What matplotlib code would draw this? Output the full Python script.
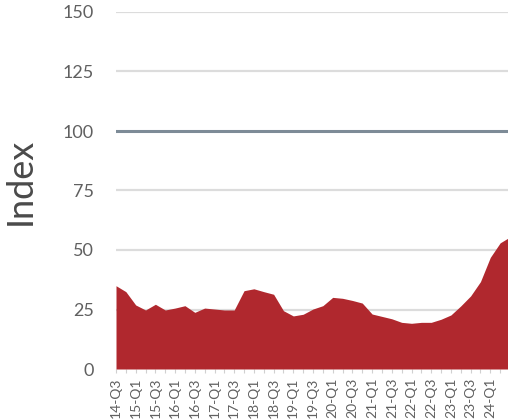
import matplotlib
matplotlib.use("Agg")
import matplotlib.pyplot as plt
import numpy as np

quarters = ["14-Q3", "14-Q4", "15-Q1", "15-Q2", "15-Q3", "15-Q4", "16-Q1", "16-Q2",
            "16-Q3", "16-Q4", "17-Q1", "17-Q2", "17-Q3", "17-Q4", "18-Q1", "18-Q2",
            "18-Q3", "18-Q4", "19-Q1", "19-Q2", "19-Q3", "19-Q4", "20-Q1", "20-Q2",
            "20-Q3", "20-Q4", "21-Q1", "21-Q2", "21-Q3", "21-Q4", "22-Q1", "22-Q2",
            "22-Q3", "22-Q4", "23-Q1", "23-Q2", "23-Q3", "23-Q4", "24-Q1", "24-Q2",
            "24-Q3"]
index_values = [35.0, 32.5, 26.9, 24.8, 27.2, 24.8, 25.6, 26.6, 23.8, 25.6,
                25.2, 24.8, 24.8, 32.9, 33.7, 32.5, 31.4, 24.5, 22.3, 23.0,
                25.2, 26.6, 30.1, 29.7, 28.8, 27.7, 23.1, 22.1, 21.1, 19.6,
                19.2, 19.6, 19.6, 20.9, 22.7, 26.5, 30.7, 36.7, 46.9, 53.0,
                55.5]
y_ticks = [0, 25, 50, 75, 100, 125, 150]

W, H = 508, 419
fig = plt.figure(figsize=(W / 100, H / 100), dpi=100)
px = 9.85
xmax = 41
left = 116 / W
bottom = (H - 369) / H
top = 12 / H
ax = fig.add_axes([left, bottom, xmax * px / W, 1 - bottom - top])

x = np.arange(len(index_values))
ax.fill_between(x, 0, index_values, color="#b0282e", linewidth=0, zorder=3)

ax.set_xlim(0, xmax)
ax.set_ylim(0, 150)
ax.set_yticks(y_ticks)
for v in y_ticks:
    if v == 100:
        ax.axhline(v, color="#7d8b97", linewidth=2.2, zorder=2)
    elif v > 0:
        ax.axhline(v, color="#dcdcdc", linewidth=1.6, zorder=1)

for s in ["top", "right", "left"]:
    ax.spines[s].set_visible(False)
ax.spines["bottom"].set_visible(False)

ax.tick_params(axis="y", length=0, pad=16, labelsize=13, labelcolor="#606060")
for lab in ax.get_yticklabels():
    lab.set_fontfamily("Lato")

ax.set_xticks(x)
ax.set_xticklabels([q if (i % 2 == 0 and i < 40) else "" for i, q in enumerate(quarters)],
                   rotation=90, fontsize=10, color="#606060", family="Lato")
ax.tick_params(axis="x", length=3, width=0.8, color="#d0d0d0", pad=3)

fig.text(20 / W, 1 - 181 / H, "Index", rotation=90, ha="center", va="center",
         fontsize=26, color="#4a4a4a", family="Lato")

fig.savefig("out.png", dpi=100)
